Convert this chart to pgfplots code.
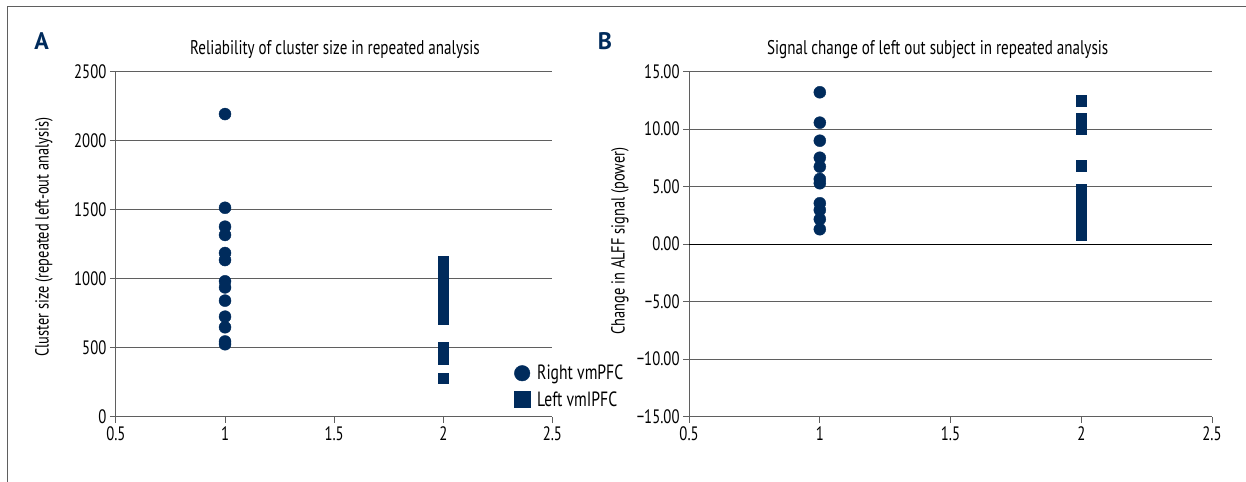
\documentclass[border=0pt]{standalone}
\usepackage{pgfplots}
\pgfplotsset{compat=1.18}
\usepackage{fontspec}
\setmainfont{PT Sans}[FakeStretch=0.76]
\newfontfamily\panelfont{PT Sans Bold}
\definecolor{navy}{RGB}{0,43,92}
\definecolor{gridg}{RGB}{95,95,95}
\begin{document}
\begin{tikzpicture}
\useasboundingbox (0bp,0bp) rectangle (1246bp,482bp);
\draw[line width=1bp, gridg] (7.9bp,0bp) -- (7.9bp,475.3bp) -- (1246bp,475.3bp);
\node[font=\fontsize{24}{28}\selectfont\panelfont, text=navy] at (41.5bp,441bp) {A};
\node[font=\fontsize{24}{28}\selectfont\panelfont, text=navy] at (605bp,441bp) {B};
\node[font=\fontsize{19.9}{22}\selectfont] at (335bp,432bp) {Reliability of cluster size in repeated analysis};
\node[font=\fontsize{19.9}{22}\selectfont] at (937.7bp,432bp) {Signal change of left out subject in repeated analysis};
\node[font=\fontsize{19}{22}\selectfont, rotate=90] at (44bp,245bp) {Cluster size (repeated left-out analysis)};
\node[font=\fontsize{19}{22}\selectfont, rotate=90] at (620bp,241bp) {Change in ALFF signal (power)};
\pgfplotsset{
  common/.style={
    scale only axis, anchor=south west,
    xmin=0.5, xmax=2.5,
    xtick={0.5,1,1.5,2,2.5},
    xticklabels={0.5,1,1.5,2,2.5},
    axis x line*=bottom, axis y line*=left,
    axis line style={gridg, line width=1bp},
    tick style={gridg, line width=1bp},
    tick align=outside, major tick length=6bp,
    ymajorgrids, grid style={gridg, line width=1bp},
    tick label style={font=\fontsize{19.5}{22}\selectfont},
    /pgf/number format/assume math mode=true,
    clip=false,
  }
}
\begin{axis}[common,
  at={(115.9bp,65.3bp)}, width=436.5bp, height=345bp,
  ymin=0, ymax=2500, ytick={0,500,1000,1500,2000,2500},
  yticklabels={0,500,1000,1500,2000,2500},
  legend style={draw=none, fill=none, at={(0.912,0.15)}, anchor=north west,
    font=\fontsize{20.7}{23}\selectfont, row sep=10bp, column sep=7bp, inner sep=0pt,
    nodes={inner sep=0pt, anchor=west}},
  legend cell align=left,
]
\addplot[only marks, mark=*, mark size=6bp, navy, mark options={fill=navy, draw=navy},
  legend image code/.code={\fill[navy] (0bp,0bp) circle (7.8bp);}] coordinates {
(1,2193) (1,1514) (1,1377) (1,1317) (1,1186) (1,1135) (1,981) (1,937)
(1,841) (1,725) (1,648) (1,545) (1,525)};
\addlegendentry{Right vmPFC}
\addplot[only marks, mark=square*, mark size=5.3bp, navy, mark options={fill=navy, draw=navy},
  legend image code/.code={\fill[navy] (-7.8bp,-7.8bp) rectangle (7.8bp,7.8bp);}] coordinates {
(2,711) (2,740) (2,770) (2,800) (2,830) (2,860) (2,890) (2,920) (2,950)
(2,980) (2,1010) (2,1040) (2,1070) (2,1100) (2,1125)
(2,420) (2,450) (2,480) (2,505) (2,278)};
\addlegendentry{Left vmIPFC}
\end{axis}
\begin{axis}[common,
  at={(689.1bp,65.3bp)}, width=522.9bp, height=345bp,
  ymin=-15, ymax=15, ytick={-15,-10,-5,0,5,10,15},
  yticklabels={−15.00,−10.00,−5.00,0.00,5.00,10.00,15.00},
]
\draw[black, line width=1bp] (axis cs:0.5,0) -- (axis cs:2.5,0);
\addplot[only marks, mark=*, mark size=6bp, navy, mark options={fill=navy, draw=navy}] coordinates {
(1,13.21) (1,10.57) (1,9.0) (1,7.52) (1,6.74) (1,5.67) (1,5.3) (1,3.56)
(1,2.97) (1,2.17) (1,1.3)};
\addplot[only marks, mark=square*, mark size=5.4bp, navy, mark options={fill=navy, draw=navy}] coordinates {
(2,12.51) (2,10.0) (2,10.3) (2,10.6) (2,10.91) (2,6.86)
(2,0.86) (2,1.2) (2,1.55) (2,1.9) (2,2.25) (2,2.6) (2,2.95) (2,3.3)
(2,3.65) (2,4.0) (2,4.35) (2,4.77)};
\end{axis}
\end{tikzpicture}
\end{document}
